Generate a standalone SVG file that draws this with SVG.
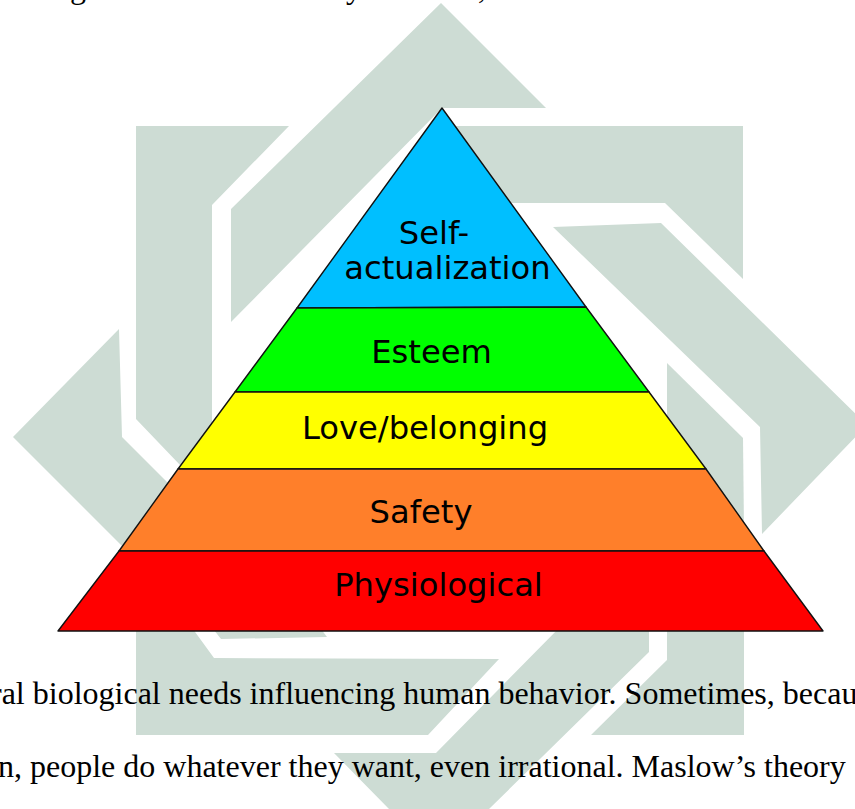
<svg xmlns="http://www.w3.org/2000/svg" width="855" height="809" viewBox="0 0 855 809">
<style>
.wm{fill:#cddcd4}
.tier{stroke:#111;stroke-width:1.4;stroke-linejoin:round}
.lbl{font-family:"DejaVu Sans",sans-serif;font-size:32.2px;fill:#000;text-anchor:middle}
.body{font-family:"Liberation Serif","Times New Roman",serif;font-size:32px;fill:#000}
</style>
<rect width="855" height="809" fill="#fff"/>
<g id="watermark">
<polygon class="wm" points="441,3 546,108 442,108 231,322 231,209"/>
<polygon class="wm" points="136,126 289,126 212,205 212,425 180,465 136,419"/>
<polygon class="wm" points="13,437 119,329 122,437 200,515 130,554"/>
<polygon class="wm" points="450,126 743,126 743,279 665,203 500,203"/>
<polygon class="wm" points="553,227 661,223 867,425 762,534 760,427"/>
<polygon class="wm" points="667,363 743,438 744,530 667,450"/>
<polygon class="wm" points="136,625 190,625 214,658 499,659 428,735 136,735"/>
<polygon class="wm" points="210,625 221,639 327,637 318,625"/>
<polygon class="wm" points="562,625 649,625 649,652 489,809 389,809 334,753 436,753"/>
<polygon class="wm" points="667,625 744,625 744,735 591,735 667,660"/>
</g>
<g id="page-text">
<text class="body" x="70" y="-2">g</text>
<text class="body" x="346" y="-2">y</text>
<text class="body" x="478" y="-2">,</text>
<text class="body" x="-9" y="704">ral biological needs influencing human behavior. Sometimes, becau</text>
<text class="body" x="-2" y="777">n, people do whatever they want, even irrational. Maslow’s theory</text>
</g>
<g id="node-self-actualization">
<polygon class="tier" fill="#00bfff" points="442,108 586,307 297,308"/>
<text class="lbl" x="434" y="244">Self-</text>
<text class="lbl" x="447.500" y="279">actualization</text>
</g>
<g id="node-esteem">
<polygon class="tier" fill="#00ff00" points="297,308 586,307 649,392 235,392"/>
<text class="lbl" x="431.500" y="363">Esteem</text>
</g>
<g id="node-love-belonging">
<polygon class="tier" fill="#ffff00" points="235,392 649,392 706,469 178,469"/>
<text class="lbl" x="425" y="439">Love/belonging</text>
</g>
<g id="node-safety">
<polygon class="tier" fill="#ff7f2a" points="178,469 706,469 764,551 119,551"/>
<text class="lbl" x="421" y="523">Safety</text>
</g>
<g id="node-physiological">
<polygon class="tier" fill="#ff0000" points="119,551 764,551 823,631 58,631"/>
<text class="lbl" x="438.500" y="596">Physiological</text>
</g>
</svg>
